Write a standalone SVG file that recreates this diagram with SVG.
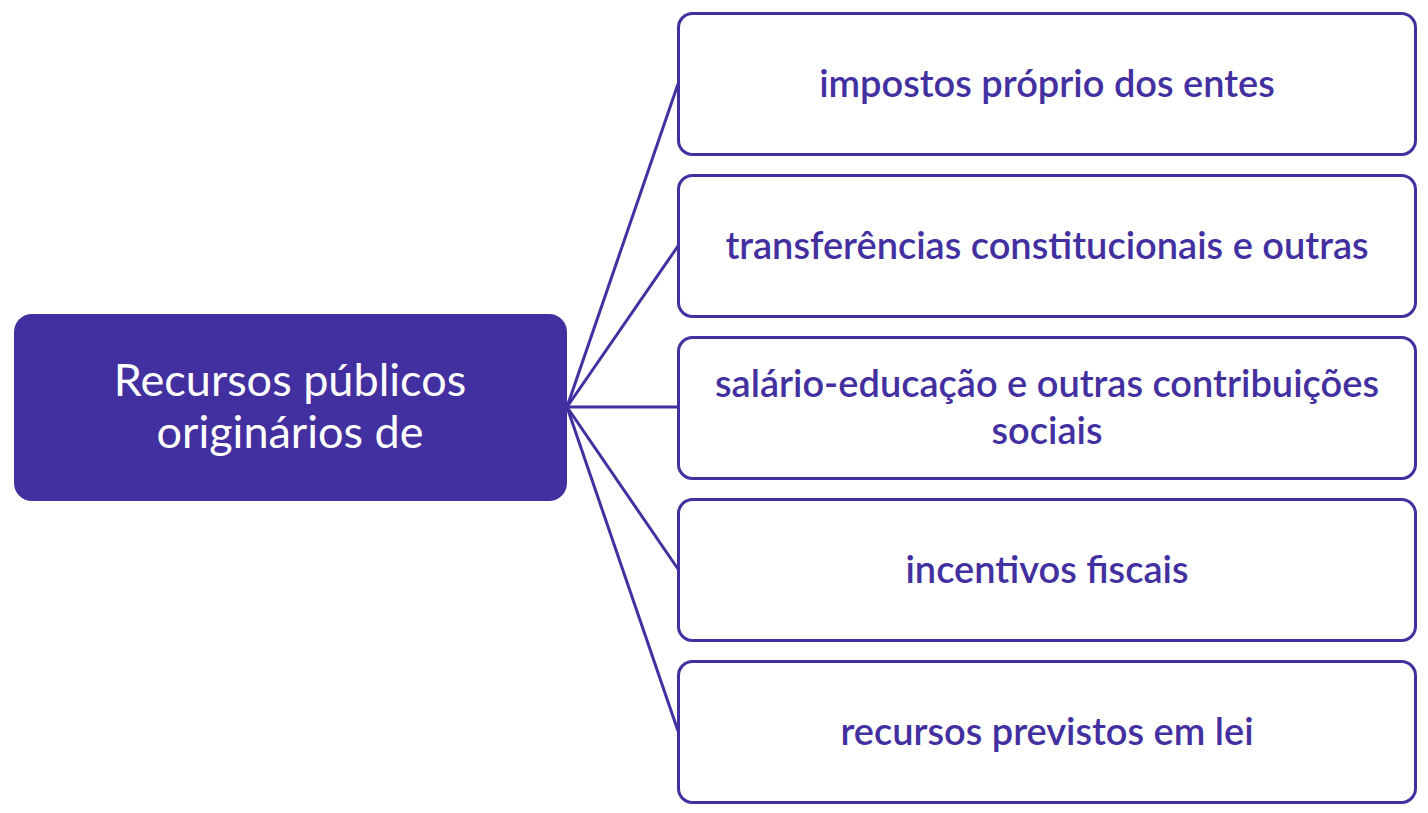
<svg xmlns="http://www.w3.org/2000/svg" width="1428" height="813" viewBox="0 0 1428 813">
<style>
.box{fill:#fff;stroke:#4330A0;stroke-width:3}
.lbl{font-family:Lato,"Liberation Sans",sans-serif;font-size:38px;font-weight:600;fill:#4330A0;text-anchor:middle}
.main{font-family:Lato,"Liberation Sans",sans-serif;font-size:45px;fill:#fff;text-anchor:middle}
.conn{stroke:#4330A0;stroke-width:3;fill:none}
</style>
<rect width="1428" height="813" fill="#fff"/>
<g id="connectors">
<line class="conn" x1="567" y1="407" x2="678" y2="84"/>
<line class="conn" x1="567" y1="407" x2="678" y2="246"/>
<line class="conn" x1="567" y1="407" x2="678" y2="407"/>
<line class="conn" x1="567" y1="407" x2="678" y2="569"/>
<line class="conn" x1="567" y1="407" x2="678" y2="731"/>
</g>
<g id="root">
<rect x="14" y="314" width="553" height="187" rx="18" fill="#4330A0"/>
<text class="main" x="290" y="396">Recursos públicos</text>
<text class="main" x="290" y="448">originários de</text>
</g>
<g id="n1">
<rect class="box" x="678.5" y="13.5" width="737" height="141" rx="14"/>
<text class="lbl" x="1047" y="97">impostos próprio dos entes</text>
</g>
<g id="n2">
<rect class="box" x="678.5" y="175.5" width="737" height="141" rx="14"/>
<text class="lbl" x="1047" y="259">transferências constitucionais e outras</text>
</g>
<g id="n3">
<rect class="box" x="678.5" y="337.5" width="737" height="141" rx="14"/>
<text class="lbl" x="1047" y="397">salário-educação e outras contribuições</text>
<text class="lbl" x="1047" y="444">sociais</text>
</g>
<g id="n4">
<rect class="box" x="678.5" y="499.5" width="737" height="141" rx="14"/>
<text class="lbl" x="1047" y="583">incentivos fiscais</text>
</g>
<g id="n5">
<rect class="box" x="678.5" y="661.5" width="737" height="141" rx="14"/>
<text class="lbl" x="1047" y="745">recursos previstos em lei</text>
</g>
</svg>
